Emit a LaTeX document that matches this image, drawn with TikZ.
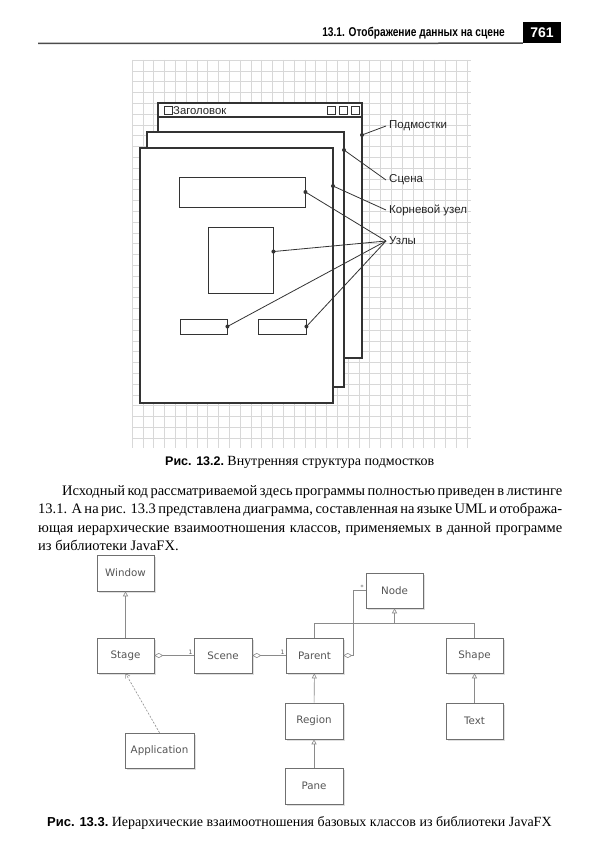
\documentclass[tikz,border=0pt]{standalone}
\usepackage{fontspec}
\setmainfont{Liberation Serif}
\newfontfamily\labf{Liberation Sans}
\newfontfamily\umlf{DejaVu Sans}
\newfontfamily\headf[FakeStretch=0.8]{Liberation Sans}
\usetikzlibrary{arrows.meta,shadows,calc}
\newcommand\bodysp{\spaceskip=0.25em plus 1em minus 0.12em\relax}
\definecolor{gridc}{HTML}{D8D8D8}
\definecolor{figline}{HTML}{333333}
\definecolor{umlline}{HTML}{8A8A8A}
\definecolor{umlbord}{HTML}{707070}
\definecolor{umltext}{HTML}{555555}
\tikzset{
  winbox/.style={draw=figline, line width=1.1pt, fill=white, inner sep=0pt},
  elbox/.style={draw=figline, line width=0.9pt, fill=white, inner sep=0pt},
  conn/.style={draw=figline, line width=0.8pt},
  dotc/.style={fill=figline},
  lab/.style={font=\labf\fontsize{11.5}{13}\selectfont, inner sep=3pt, anchor=west, text=black!85},
  umlbox/.style={draw=umlbord, line width=0.6pt, fill=white, minimum width=57pt, minimum height=35pt, inner sep=0pt,
    font=\umlf\fontsize{10.3}{12}\selectfont, text=umltext,
    drop shadow={opacity=0.25, shadow xshift=1.5pt, shadow yshift=-1.5pt}},
  uline/.style={draw=umlline, line width=0.6pt},
  gen/.style={uline, -{Triangle[open, length=5pt, width=5pt]}},
  agg/.style={uline, {Diamond[open, length=9pt, width=5pt]}-},
  dep/.style={uline, dashed, dash pattern=on 2pt off 1.5pt, -{Straight Barb[length=4pt, width=5pt]}},
  mult/.style={font=\umlf\fontsize{6}{7}\selectfont, text=umltext, inner sep=1pt},
  bodyline/.style={inner sep=0pt, anchor=base west, font=\fontsize{14.5}{17}\selectfont},
}
\begin{document}
\begin{tikzpicture}[x=1pt,y=-1pt]
\useasboundingbox (0,0) rectangle (600,853);
\fill[white] (0,0) rectangle (600,853);

% ---------- header ----------
\node[inner sep=0pt, anchor=base east, font=\headf\bfseries\fontsize{12.7}{14}\selectfont] (htitle) at (505,36.5) {13.1. Отображение данных на сцене};
\node[fill=black, text=white, inner sep=0pt, minimum width=38pt, minimum height=21pt, font=\labf\bfseries\fontsize{14}{16}\selectfont] (hpage) at (542,32.5) {761};
\coordinate (hl) at (38,43.5);
\draw[line width=1.5pt, black!70] (hl) -- (hpage.south west);

% ---------- figure 13.2 ----------
\fill[white] (132,60) rectangle (471,448);
\foreach \i in {0,...,31} {
  \draw[gridc, line width=0.5pt] ({132+\i*10.8},60) -- ({132+\i*10.8},448);
}
\foreach \j in {0,...,35} {
  \draw[gridc, line width=0.5pt] (132,{60+\j*10.8}) -- (471,{60+\j*10.8});
}

\node[winbox, minimum width=204pt, minimum height=255pt] (stage) at (260,230.5) {};
\coordinate (tbl) at (158,117);
\coordinate (tbr) at (362,117);
\draw[figline, line width=1.1pt] (tbl) -- (tbr);
\node[draw=figline, line width=0.8pt, minimum size=8pt, inner sep=0pt] (ticon) at (168,110) {};
\node[inner sep=0pt, anchor=west, font=\labf\fontsize{11.3}{13}\selectfont, text=black!85] (ttext) at (173,110.5) {Заголовок};
\node[draw=figline, line width=0.8pt, minimum size=8pt, inner sep=0pt] (b1) at (331,110) {};
\node[draw=figline, line width=0.8pt, minimum size=8pt, inner sep=0pt] (b2) at (343,110) {};
\node[draw=figline, line width=0.8pt, minimum size=8pt, inner sep=0pt] (b3) at (355,110) {};

\node[winbox, minimum width=197pt, minimum height=255pt] (scene) at (245.5,259.5) {};
\node[winbox, minimum width=193pt, minimum height=255pt] (root) at (236.5,275.5) {};

\node[elbox, minimum width=126pt, minimum height=30pt] (r1) at (242,192) {};
\node[elbox, minimum width=65pt, minimum height=66pt] (r2) at (240.5,260) {};
\node[elbox, minimum width=47pt, minimum height=15pt] (r3) at (203.5,326.5) {};
\node[elbox, minimum width=48pt, minimum height=15pt] (r4) at (282,326.5) {};

\node[lab] (lstage) at (386,126) {Подмостки};
\node[lab] (lscene) at (386,180) {Сцена};
\node[lab] (lroot) at (386,210) {Корневой узел};
\node[lab] (lnodes) at (386,241) {Узлы};

\coordinate (dstage) at (362,135);
\coordinate (dscene) at (344,150);
\coordinate (droot) at (333,186);
\coordinate (dr1) at (r1.east);
\coordinate (dr2) at ($(r2.north east)+(0,25)$);
\coordinate (dr3) at (r3.east);
\coordinate (dr4) at (r4.east);

\draw[conn] (dstage) -- (lstage.west);
\draw[conn] (dscene) -- (lscene.west);
\draw[conn] (droot) -- (lroot.west);
\draw[conn] (dr1) -- (lnodes.west);
\draw[conn] (dr2) -- (lnodes.west);
\draw[conn] (dr3) -- (lnodes.west);
\draw[conn] (dr4) -- (lnodes.west);
\foreach \d in {dstage,dscene,droot,dr1,dr2,dr3,dr4} { \fill[dotc] (\d) circle (2pt); }

\node[inner sep=0pt, anchor=base west] (cap1) at (165,465)
  {{\labf\bfseries\fontsize{12.5}{14}\selectfont Рис. 13.2.} {\fontsize{14}{16}\selectfont Внутренняя структура подмостков}};

% ---------- body text ----------
\node[bodyline] (t1) at (62,495) {\bodysp\hbox to 500pt{Исходный код рассматриваемой здесь программы полностью приведен в листинге}};
\node[bodyline] (t2) at (38,513.5) {\bodysp\hbox to 524pt{13.1. А на рис. 13.3 представлена диаграмма, составленная на языке UML и отобража-}};
\node[bodyline] (t3) at (38,532) {\bodysp\hbox to 524pt{ющая иерархические взаимоотношения классов, применяемых в данной программе}};
\node[bodyline] (t4) at (38,550.5) {из библиотеки JavaFX.};

% ---------- figure 13.3 ----------
\node[umlbox, minimum height=36pt] (window) at (125.5,573) {Window};
\node[umlbox] (stg) at (125.5,655.5) {Stage};
\node[umlbox, minimum width=58pt] (scn) at (223,655.5) {Scene};
\node[umlbox] (parent) at (314.5,655.5) {Parent};
\node[umlbox] (node) at (394.5,590.5) {Node};
\node[umlbox] (shape) at (474.5,655.5) {Shape};
\node[umlbox, minimum width=58pt, minimum height=36pt] (region) at (314,721) {Region};
\node[umlbox, minimum height=36pt] (text) at (474.5,721) {Text};
\node[umlbox, minimum width=58pt, minimum height=36pt] (pane) at (314,786) {Pane};
\node[umlbox, minimum width=69pt] (app) at (159.5,750.5) {Application};

\draw[gen] (stg) -- (window);
\draw[agg] (stg.east) -- (scn.west) node[mult, pos=1, above left] {1};
\draw[agg] (scn.east) -- (parent.west) node[mult, pos=1, above left] {1};
\coordinate (aggc) at ($(node.west)+(-12,0)$);
\draw[agg] (parent.east) -| (aggc) -- (node.west) node[mult, pos=0.7, above] {*};
\coordinate (j) at ($(node.south)+(0,15)$);
\draw[uline] (parent.north) |- (j) -| (shape.north);
\draw[gen] (j) -- (node.south);
\draw[gen] (region) -- (parent);
\draw[gen] (pane) -- (region);
\draw[gen] (text) -- (shape);
\draw[dep] (app.north) -- (stg.south);

\node[inner sep=0pt, anchor=base west] (cap2) at (47,826)
  {{\labf\bfseries\fontsize{13}{15}\selectfont Рис. 13.3.} {\fontsize{14}{16}\selectfont Иерархические взаимоотношения базовых классов из библиотеки JavaFX}};
\end{tikzpicture}
\end{document}
